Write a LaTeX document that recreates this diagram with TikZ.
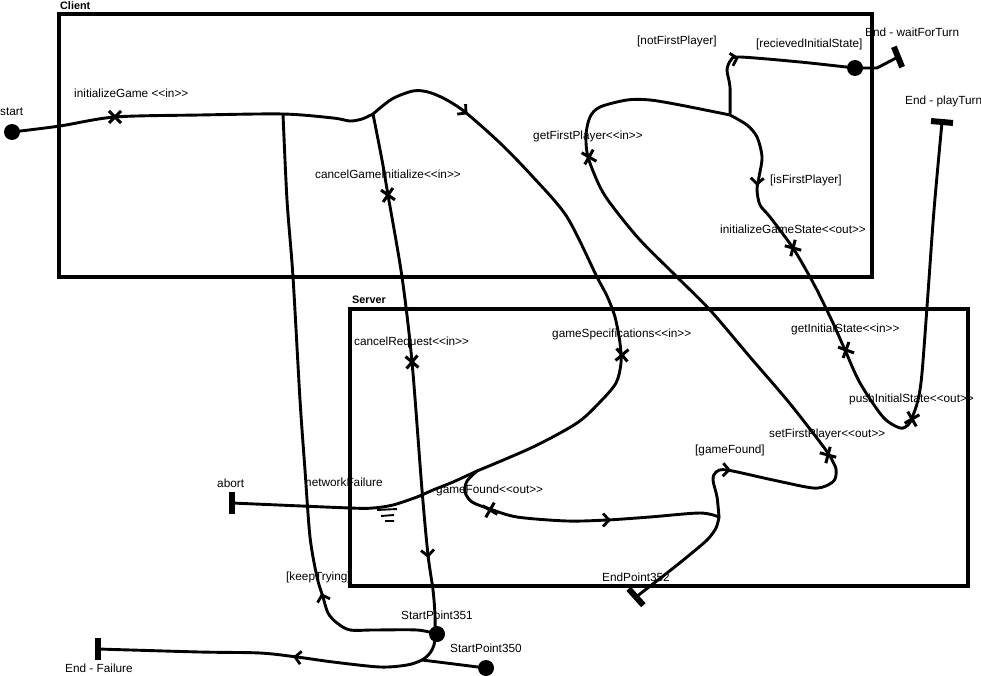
\documentclass[tikz,border=0pt]{standalone}
\usepackage{fontspec}
\setmainfont{Liberation Sans}[Ligatures=TeXOff]
\begin{document}
\begin{tikzpicture}[x=1pt,y=-1pt,
  ucmpath/.style={draw, line width=2.9pt, line join=round, line cap=round},
  compbox/.style={draw, line width=3.5pt},
  lbl/.style={anchor=west, inner sep=0pt, font=\fontsize{11.8}{13}\selectfont},
  blbl/.style={anchor=west, inner sep=0pt, font=\bfseries\fontsize{10.8}{13}\selectfont},
  startpt/.style={circle, fill=black, minimum size=16pt, inner sep=0pt},
  endbar/.style={rectangle, fill=black, minimum width=22pt, minimum height=6pt, inner sep=0pt},
  chev/.pic={\draw[line width=2.8pt, line join=miter, line cap=butt] (-6,-6.5) -- (0,0) -- (-6,6.5);},
  xmark/.pic={\draw[line width=3pt] (-6,-6) -- (6,6) (-6,6) -- (6,-6);}
]
\useasboundingbox (0,0) rectangle (981,676);
\fill[white] (0,0) rectangle (981,676);

% components
\draw[compbox] (59,14) rectangle (872,277);
\draw[compbox] (350,309) rectangle (968,586);
\node[blbl] (lclient) at (60,6) {Client};
\node[blbl] (lserver) at (352,300) {Server};

% named coordinates
\coordinate (start) at (12,132);
\coordinate (j1) at (283,114);
\coordinate (j2) at (373,114);
\coordinate (j3) at (477,471);
\coordinate (j4) at (719,517);
\coordinate (j5) at (730,115);
\coordinate (rcv) at (855,68);
\coordinate (ewait) at (898,57);
\coordinate (eplay) at (942,122);
\coordinate (sp351) at (437,634);
\coordinate (sp350) at (486,668);
\coordinate (j6) at (422,660);
\coordinate (efail) at (98,649);
\coordinate (eabort) at (232,503);
\coordinate (ep352) at (636,597);
\coordinate (bend1) at (877,68);

% paths
\draw[ucmpath] plot[smooth] coordinates {(start) (60,126) (115,117) (200,115) (j1) (333,118) (350,121) (362,119) (j2)};
\draw[ucmpath] plot[smooth] coordinates {(j2) (392,99) (413,91) (428,92) (445,99) (465,112) (500,143) (533,177) (567,217) (597,277) (607,296) (615,317) (620,343) (621,363) (616,383) (600,402) (577,423) (533,447) (j3)};
\draw[ucmpath] plot[smooth] coordinates {(j3) (453,482) (433,490) (417,497) (393,505) (373,508) (350,508) (eabort)};
\draw[ucmpath] plot[smooth] coordinates {(j3) (467,481) (465,492) (472,502) (490,509) (517,517) (567,521) (607,520) (650,517) (700,513) (j4)};
\draw[ucmpath] plot[smooth] coordinates {(j4) (716,528) (707,540) (687,557) (667,573) (ep352)};
\draw[ucmpath] plot[smooth] coordinates {(j4) (717,497) (713,480) (716,472) (727,470) (773,480) (813,488) (828,485) (835,479) (836,469) (832,460) (828,453) (813,433) (787,400) (750,357) (710,310) (677,277) (640,240) (613,207) (600,187) (588,157) (586,135) (590,117) (600,107) (627,100) (650,100) (680,105) (j5)};
\draw[ucmpath] plot[smooth] coordinates {(j5) (730,87) (727,70) (731,60) (740,57) (800,62) (rcv)};
\draw[ucmpath] (rcv) -- (bend1) -- (ewait);
\draw[ucmpath] plot[smooth] coordinates {(j5) (747,125) (757,137) (762,157) (759,177) (757,190) (760,205) (770,217) (793,248) (810,277) (817,290) (833,323) (845,350) (860,383) (883,417) (900,428) (908,425) (912,418) (918,400) (922,373) (928,293) (934,210) (eplay)};
\draw[ucmpath] plot[smooth] coordinates {(sp351) (417,630) (373,630) (350,630) (337,623) (328,613) (323,597) (317,577) (310,537) (305,470) (300,400) (293,277) (287,200) (j1)};
\draw[ucmpath] plot[smooth] coordinates {(j2) (382,160) (388,195) (402,277) (412,362) (422,490) (428,555) (433,590) (435,615) (435,634) (434,645) (430,653) (j6) (407,665) (380,667) (333,662) (297,657) (260,653) (200,652) (efail)};
\draw[ucmpath] (sp350) -- (j6);

% network failure symbol
\draw[line width=1.9pt] (377,510) -- (397,509) (381,516) -- (394,515) (385,521) -- (394,521);

% start points
\node[startpt] (nstart) at (start) {};
\node[startpt] (nrcv) at (rcv) {};
\node[startpt] (nsp351) at (sp351) {};
\node[startpt] (nsp350) at (sp350) {};

% end bars
\node[endbar, rotate=-5] (neplay) at (eplay) {};
\node[endbar, rotate=-68] (newait) at (ewait) {};
\node[endbar, rotate=90] (nefail) at (efail) {};
\node[endbar, rotate=90] (neabort) at (eabort) {};
\node[endbar, rotate=-48] (nep352) at (ep352) {};

% responsibilities
\pic[rotate=0] at (115,117) {xmark};
\pic[rotate=10] at (388,195) {xmark};
\pic[rotate=15] at (589,157) {xmark};
\pic[rotate=30] at (793,248) {xmark};
\pic[rotate=5] at (412,362) {xmark};
\pic[rotate=-5] at (622,355) {xmark};
\pic[rotate=25] at (846,350) {xmark};
\pic[rotate=-15] at (912,419) {xmark};
\pic[rotate=30] at (828,455) {xmark};
\pic[rotate=15] at (490,510) {xmark};

% direction arrows
\pic[rotate=-40] at (466,113) {chev};
\pic[rotate=-93] at (757,184) {chev};
\pic[rotate=15] at (737,58) {chev};
\pic[rotate=0] at (609,520) {chev};
\pic[rotate=-3] at (729,470) {chev};
\pic[rotate=-85] at (428,556) {chev};
\pic[rotate=107] at (322,595) {chev};
\pic[rotate=173] at (295,657) {chev};

% labels
\node[lbl] (l1) at (0,112) {start};
\node[lbl] (l2) at (74,93) {initializeGame <<in>>};
\node[lbl] (l3) at (315,174) {cancelGameInitialize<<in>>};
\node[lbl] (l4) at (533,136) {getFirstPlayer<<in>>};
\node[lbl] (l5) at (637,41) {[notFirstPlayer]};
\node[lbl] (l6) at (756,44) {[recievedInitialState]};
\node[lbl] (l7) at (865,32) {End - waitForTurn};
\node[lbl] (l8) at (905,101) {End - playTurn};
\node[lbl] (l9) at (770,180) {[isFirstPlayer]};
\node[lbl] (l10) at (720,229) {initializeGameState<<out>>};
\node[lbl] (l11) at (354,342) {cancelRequest<<in>>};
\node[lbl] (l12) at (552,334) {gameSpecifications<<in>>};
\node[lbl] (l13) at (791,329) {getInitialState<<in>>};
\node[lbl] (l14) at (849,399) {pushInitialState<<out>>};
\node[lbl] (l15) at (769,434) {setFirstPlayer<<out>>};
\node[lbl] (l16) at (695,450) {[gameFound]};
\node[lbl] (l17) at (217,483) {abort};
\node[lbl] (l18) at (305,482) {networkFailure};
\node[lbl] (l19) at (436,490) {gameFound<<out>>};
\node[lbl] (l20) at (286,577) {[keepTrying]};
\node[lbl] (l21) at (602,577) {EndPoint352};
\node[lbl] (l22) at (401,615) {StartPoint351};
\node[lbl] (l23) at (450,648) {StartPoint350};
\node[lbl] (l24) at (65,668) {End - Failure};
\end{tikzpicture}
\end{document}
